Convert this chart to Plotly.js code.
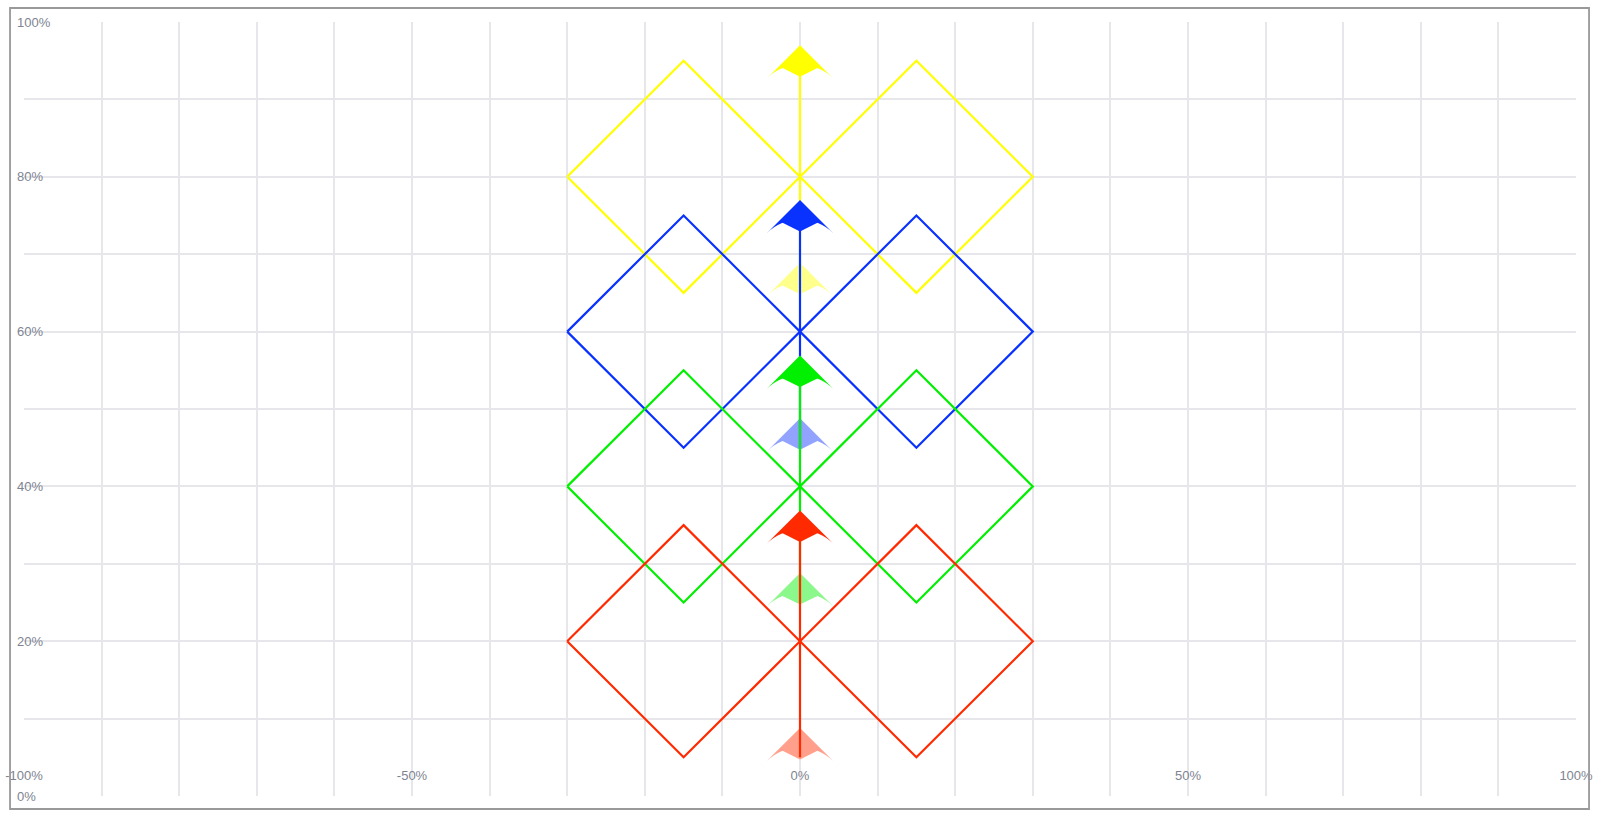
<!DOCTYPE html>
<html>
<head>
<meta charset="utf-8">
<script src="https://cdn.plot.ly/plotly-3.0.1.min.js"></script>
<style>
  html, body { margin: 0; padding: 0; background: #fff; }
  #plot { width: 1600px; height: 822px; }
</style>
</head>
<body>
<div id="plot"></div>
<script>
// group centres (y, %) and colours, drawn from the top group down
var centers = [80, 60, 40, 20];
var colors = ['#ffff00', '#0a32ff', '#00f000', '#ff2a00'];
// diamond outline offsets around each centre (x %, y %)
var pathX = [-30, -15, 0, 15, 30, 15, 0, -15, -30, null, 0, 0];
var pathDY = [0, 15, 0, 15, 0, -15, 0, -15, 0, null, -15, 15];
// arrow tip positions
var headY = [97, 77, 56.9, 36.9];
var tailY = [68.9, 48.8, 28.8, 8.8];
// axis ticks
var xTickVals = [-100, -50, 0, 50, 100];
var xTickText = ['-100%', '-50%', '0%', '50%', '100%'];
var yTickVals = [0, 20, 40, 60, 80, 100];
var yTickText = ['0%', '20%', '40%', '60%', '80%', '100%'];

var ARROW = 47;          // marker size of the wide arrow
var FILL = 27;           // wide diamond that fills the arrow's back
var FILL_DY = 2.85;      // diamond centre below the tip, in y units

function pale(hex, a) {
  var n = parseInt(hex.slice(1), 16);
  var c = [(n >> 16) & 255, (n >> 8) & 255, n & 255].map(function(v) {
    return Math.round(255 - (255 - v) * a);
  });
  return 'rgb(' + c.join(',') + ')';
}

function arrowTraces(y, color) {
  return [{
    type: 'scatter', mode: 'markers', x: [0], y: [y],
    marker: {symbol: 'arrow-wide', size: ARROW, angle: 0, color: color, line: {width: 0}},
    hoverinfo: 'skip'
  }, {
    type: 'scatter', mode: 'markers', x: [0], y: [y - FILL_DY],
    marker: {symbol: 'diamond-wide', size: FILL, color: color, line: {width: 0}},
    hoverinfo: 'skip'
  }];
}

var traces = [];
centers.forEach(function(cy, i) {
  traces = traces.concat(arrowTraces(tailY[i], pale(colors[i], 0.45)));
  traces.push({
    type: 'scatter', mode: 'lines',
    x: pathX,
    y: pathDY.map(function(d) { return d === null ? null : cy + d; }),
    line: {color: colors[i], width: 2.2},
    connectgaps: false,
    hoverinfo: 'skip'
  });
  traces = traces.concat(arrowTraces(headY[i], colors[i]));
});

var tickFont = {family: 'Liberation Sans, Arial, sans-serif', size: 13, color: '#7e8491'};

var layout = {
  width: 1600, height: 822,
  showlegend: false,
  paper_bgcolor: '#fff', plot_bgcolor: '#fff',
  margin: {l: 24, r: 24, t: 22, b: 26},
  font: tickFont,
  xaxis: {
    range: [-100, 100], tickmode: 'array', tickvals: xTickVals, ticktext: xTickText,
    tickfont: tickFont,
    showgrid: true, gridcolor: '#e7e7eb', gridwidth: 2,
    zeroline: false, showline: false, ticks: '',
    ticklabelposition: 'inside', ticklabeloverflow: 'allow', ticklabelstandoff: 10,
    minor: {dtick: 10, showgrid: true, gridcolor: '#e7e7eb', gridwidth: 2},
    fixedrange: true
  },
  yaxis: {
    range: [0, 100], tickmode: 'array', tickvals: yTickVals, ticktext: yTickText,
    tickfont: tickFont,
    showgrid: true, gridcolor: '#e7e7eb', gridwidth: 2,
    zeroline: false, showline: false, ticks: '',
    ticklabelposition: 'inside', ticklabeloverflow: 'allow', ticklabelstandoff: -10,
    minor: {dtick: 10, showgrid: true, gridcolor: '#e7e7eb', gridwidth: 2},
    fixedrange: true
  },
  shapes: [{
    type: 'rect', xref: 'paper', yref: 'paper',
    x0: -0.009, x1: 1.0084, y0: -0.0168, y1: 1.0181,
    line: {color: '#999999', width: 1.8}, layer: 'above'
  }]
};

Plotly.newPlot('plot', traces, layout, {displayModeBar: false, staticPlot: true});
</script>
</body>
</html>
